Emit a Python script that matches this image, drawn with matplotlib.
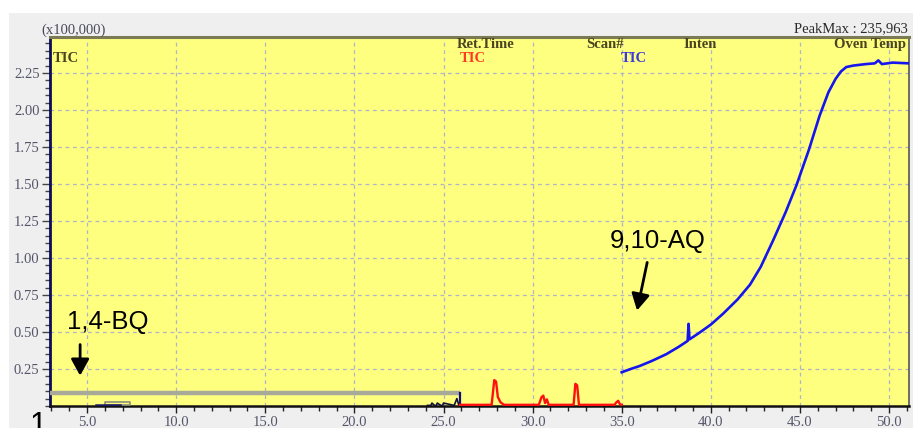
import matplotlib
matplotlib.use("Agg")
import matplotlib.pyplot as plt
from matplotlib.patches import Rectangle
from matplotlib.ticker import MultipleLocator, FormatStrFormatter

# ---- chromatogram data (retention time in min, intensity in 1e5 counts) ----
bq_window_x = [2.92, 25.93, 25.93]
bq_window_y = [0.088, 0.088, 0.0]

early_trace_x = [5.5, 6.85]
early_trace_y = [0.008, 0.008]
early_box_x = [6.0, 7.4, 7.4, 6.0, 6.0]
early_box_y = [0.006, 0.006, 0.024, 0.024, 0.006]

late_peaks_x = [24.1, 24.3, 24.35, 24.5, 24.6, 24.65, 24.85, 24.95, 25.0, 25.6, 25.75, 25.85, 25.93]
late_peaks_y = [0.004, 0.004, 0.02, 0.004, 0.004, 0.02, 0.004, 0.004, 0.02, 0.004, 0.05, 0.01, 0.004]

red_x = [25.93, 27.7, 27.85, 27.95, 28.05, 28.2, 28.4, 30.35, 30.5, 30.6, 30.7,
         30.8, 30.9, 32.3, 32.4, 32.5, 32.6, 34.6, 34.7, 34.8, 34.9, 35.0]
red_y = [0.008, 0.008, 0.175, 0.165, 0.06, 0.025, 0.008, 0.008, 0.06, 0.07, 0.02,
         0.045, 0.008, 0.008, 0.15, 0.14, 0.008, 0.008, 0.025, 0.035, 0.012, 0.008]

blue_x = [35.0, 35.5, 36.0, 36.7, 37.5, 38.2, 38.7, 38.75, 38.8, 39.3, 40.0, 40.7,
          41.5, 42.2, 42.8, 43.5, 44.2, 44.8, 45.5, 46.1, 46.6, 47.0, 47.3, 47.6,
          48.0, 48.7, 49.2, 49.4, 49.6, 50.2, 51.1]
blue_y = [0.228, 0.25, 0.27, 0.305, 0.35, 0.40, 0.44, 0.555, 0.45, 0.49, 0.55, 0.625,
          0.72, 0.82, 0.94, 1.12, 1.31, 1.49, 1.73, 1.96, 2.12, 2.21, 2.26, 2.29,
          2.30, 2.31, 2.315, 2.335, 2.31, 2.32, 2.315]

x_major = [5, 10, 15, 20, 25, 30, 35, 40, 45, 50]
y_major = [0.25, 0.50, 0.75, 1.00, 1.25, 1.50, 1.75, 2.00, 2.25]

W, H = 913, 428
fig = plt.figure(figsize=(W / 100, H / 100), dpi=100)
fig.patch.set_facecolor("white")

# gray instrument panel behind the plot
panel = Rectangle((9 / W, 0), 1 - 9 / W, 1 - 13 / H,
                  transform=fig.transFigure, facecolor="#efefef",
                  edgecolor="none", zorder=-5)
fig.add_artist(panel)

ax = fig.add_axes([50 / W, 1 - 406 / H, (909 - 50) / W, (406 - 37) / H])
ax.set_zorder(1)
ax.set_facecolor("#fefe7f")
ax.set_xlim(2.92, 51.12)
ax.set_ylim(0, 2.493)

serif = ["Liberation Serif", "DejaVu Serif"]
tick_color = "#55556a"

ax.xaxis.set_major_locator(MultipleLocator(5))
ax.xaxis.set_minor_locator(MultipleLocator(1))
ax.yaxis.set_major_locator(MultipleLocator(0.25))
ax.yaxis.set_minor_locator(MultipleLocator(0.05))
ax.xaxis.set_major_formatter(FormatStrFormatter("%.1f"))
ax.yaxis.set_major_formatter(FormatStrFormatter("%.2f"))
ax.set_xticks(x_major)
ax.set_yticks(y_major)
ax.tick_params(axis="x", which="major", length=5, width=1, color="#222222", pad=2)
ax.tick_params(axis="x", which="minor", length=3.5, width=1, color="#222222")
ax.tick_params(axis="y", which="major", length=6, width=1, color="#444444", pad=1.5)
ax.tick_params(axis="y", which="minor", length=3.5, width=1, color="#444444")
for lab in ax.get_xticklabels() + ax.get_yticklabels():
    lab.set_family(serif)
    lab.set_fontsize(10.5)
    lab.set_color(tick_color)

for x in x_major:
    ax.axvline(x, color="#b0b4c8", lw=0.9, ls=(0, (3, 3)), zorder=1)
for y in y_major:
    ax.axhline(y, color="#b0b4c8", lw=0.9, ls=(0, (3, 3)), zorder=1)

ax.spines["left"].set_color("#0d0d55")
ax.spines["left"].set_linewidth(2)
ax.spines["bottom"].set_color("#111111")
ax.spines["bottom"].set_linewidth(1.8)
ax.spines["top"].set_color("#7a7a55")
ax.spines["top"].set_linewidth(2.2)
ax.spines["right"].set_color("#555555")
ax.spines["right"].set_linewidth(1.2)

# traces
ax.plot(bq_window_x[:2], bq_window_y[:2], color="#a9a99a", lw=3.2, zorder=3,
        solid_capstyle="butt")
ax.plot(bq_window_x[1:], bq_window_y[1:], color="#0d0d80", lw=1.6, zorder=4)
ax.plot(early_box_x, early_box_y, color="#8c8c7c", lw=1.2, zorder=4)
ax.plot(early_trace_x, early_trace_y, color="#1a1a60", lw=1.8, zorder=4)
ax.plot(late_peaks_x, late_peaks_y, color="#111133", lw=1.2, zorder=4)
ax.plot(red_x, red_y, color="#ff1010", lw=1.7, zorder=5)
ax.plot(blue_x, blue_y, color="#1515ee", lw=1.9, zorder=5)

# header labels inside the plot
hdr = dict(family=serif, fontsize=10.5, fontweight="bold", color="#4a4420",
           transform=ax.transAxes, va="center")
ax.text((486 - 50) / 859, 1 - (44.5 - 37) / 369, "Ret.Time", ha="center", **hdr)
ax.text((605 - 50) / 859, 1 - (44.5 - 37) / 369, "Scan#", ha="center", **hdr)
ax.text((700 - 50) / 859, 1 - (44.5 - 37) / 369, "Inten", ha="center", **hdr)
ax.text((906 - 50) / 859, 1 - (44.5 - 37) / 369, "Oven Temp", ha="right", **hdr)
ax.text((53 - 50) / 859, 1 - (58.5 - 37) / 369, "TIC", ha="left", **hdr)
hdr_red = dict(hdr, color="#ff3b1f")
hdr_blue = dict(hdr, color="#3a3adc")
ax.text((473 - 50) / 859, 1 - (58.5 - 37) / 369, "TIC", ha="center", **hdr_red)
ax.text((634 - 50) / 859, 1 - (58.5 - 37) / 369, "TIC", ha="center", **hdr_blue)

fig.text(41 / W, 1 - 30 / H, "(x100,000)", family=serif, fontsize=10.5,
         color="#4a4a5a", ha="left", va="center")
fig.text(908 / W, 1 - 29 / H, "PeakMax : 235,963", family=serif, fontsize=10.5,
         color="#2a2a2a", ha="right", va="center")

# compound annotations
sans = ["Liberation Sans", "DejaVu Sans"]
arrow = dict(arrowstyle="-|>,head_length=1.0,head_width=0.55",
             color="black", lw=2, shrinkA=0, shrinkB=0)
ax.text(3.88, 0.567, "1,4-BQ", family=sans, fontsize=18.5, color="black",
        ha="left", va="center", zorder=6)
ax.annotate("", xy=(4.61, 0.205), xytext=(4.61, 0.415), arrowprops=arrow, zorder=6)
ax.text(34.35, 1.115, "9,10-AQ", family=sans, fontsize=18.5, color="black",
        ha="left", va="center", zorder=6)
ax.annotate("", xy=(35.86, 0.645), xytext=(36.43, 0.97), arrowprops=arrow, zorder=6)

fig.text(30 / W, 1 - 411 / H, "1", family=sans, fontsize=22, color="black",
         ha="left", va="top")

fig.savefig("out.png", dpi=100, facecolor=fig.get_facecolor())
